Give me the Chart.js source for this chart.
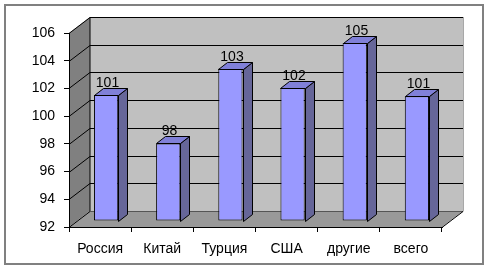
<!DOCTYPE html>
<html>
<head>
<meta charset="utf-8">
<script src="https://cdn.jsdelivr.net/npm/chart.js@4"></script>
<style>
  html, body { margin: 0; padding: 0; background: #fff; }
  #wrap { width: 491px; height: 272px; position: relative; }
</style>
</head>
<body>
<div id="wrap"><canvas id="chart"></canvas></div>
<script>
const categories = ['Россия', 'Китай', 'Турция', 'США', 'другие', 'всего'];
const values = [101.1, 97.6, 103.0, 101.6, 104.85, 101.0];
const yMin = 92;
const yMax = 106;
const yStep = 2;

// 3d look: depth of the walls and where the bars sit inside it
const wallDx = 21, wallDy = -16;
const barShiftX = 6, barShiftY = -6;
const barDx = 9, barDy = -7;

const fontFamily = 'Arial, "Liberation Sans", sans-serif';

function poly(ctx, pts, fill, stroke) {
  ctx.beginPath();
  ctx.moveTo(pts[0][0], pts[0][1]);
  for (let i = 1; i < pts.length; i++) ctx.lineTo(pts[i][0], pts[i][1]);
  ctx.closePath();
  if (fill) { ctx.fillStyle = fill; ctx.fill(); }
  if (stroke) { ctx.strokeStyle = stroke; ctx.lineWidth = 1; ctx.stroke(); }
}

function line(ctx, x1, y1, x2, y2, color) {
  ctx.beginPath();
  ctx.moveTo(x1, y1);
  ctx.lineTo(x2, y2);
  ctx.strokeStyle = color;
  ctx.lineWidth = 1;
  ctx.stroke();
}

const walls3d = {
  id: 'walls3d',
  beforeDraw(chart) {
    const ctx = chart.ctx;
    const xs = chart.scales.x, ys = chart.scales.y;
    const L = xs.left, R = xs.right;
    const B = ys.getPixelForValue(yMin), T = ys.getPixelForValue(yMax);
    ctx.save();
    ctx.fillStyle = '#fff';
    ctx.fillRect(0, 0, chart.width, chart.height);
    // outer frame
    ctx.strokeStyle = '#808080';
    ctx.lineWidth = 2;
    ctx.strokeRect(5, 5, 478, 259);

    // back wall
    poly(ctx, [[L + wallDx, T + wallDy], [R + wallDx, T + wallDy], [R + wallDx, B + wallDy], [L + wallDx, B + wallDy]], '#c0c0c0');
    // left wall
    poly(ctx, [[L, B], [L, T], [L + wallDx, T + wallDy], [L + wallDx, B + wallDy]], '#808080');
    // floor
    poly(ctx, [[L, B], [R, B], [R + wallDx, B + wallDy], [L + wallDx, B + wallDy]], '#999999');

    // gridlines on the walls
    for (let v = yMin + yStep; v <= yMax; v += yStep) {
      const py = Math.round(ys.getPixelForValue(v)) + 0.5;
      line(ctx, L, py, L + wallDx, py + wallDy, '#000');
      line(ctx, L + wallDx, py + wallDy, R + wallDx, py + wallDy, '#000');
    }
    const by = Math.round(B) + 0.5;
    line(ctx, L + wallDx, by + wallDy, L + wallDx, Math.round(T) + 0.5 + wallDy, '#000');
    line(ctx, L, by, L + wallDx, by + wallDy, '#000');
    line(ctx, L + wallDx, by + wallDy, R + wallDx, by + wallDy, '#555');
    line(ctx, R, by, R + wallDx, by + wallDy, '#000');
    line(ctx, R + wallDx + 0.5, by + wallDy, R + wallDx + 0.5, Math.round(T) + wallDy, '#a8a8a8');
    ctx.restore();
  },
  beforeDatasetsDraw(chart) {
    chart.ctx.save();
    chart.ctx.translate(barShiftX, barShiftY);
  },
  afterDatasetsDraw(chart) {
    const ctx = chart.ctx;
    ctx.restore();
    const meta = chart.getDatasetMeta(0);
    ctx.save();
    meta.data.forEach((bar, i) => {
      const p = bar.getProps(['x', 'y', 'base', 'width'], true);
      const l = Math.round(p.x - p.width / 2 + barShiftX) + 0.5;
      const r = Math.round(p.x + p.width / 2 + barShiftX) + 0.5;
      const t = Math.round(p.y + barShiftY) + 0.5;
      const b = Math.round(p.base + barShiftY) + 0.5;
      // side face
      poly(ctx, [[r, b], [r, t], [r + barDx, t + barDy], [r + barDx, b + barDy]], '#666699', '#000');
      // top face
      poly(ctx, [[l, t], [r, t], [r + barDx, t + barDy], [l + barDx, t + barDy]], '#8080d8', '#000');
      // value label
      ctx.fillStyle = '#000';
      ctx.font = '14px ' + fontFamily;
      ctx.textAlign = 'center';
      ctx.textBaseline = 'alphabetic';
      ctx.fillText(String(Math.round(values[i])), (l + r) / 2 + 1, t + barDy - 2);
    });
    ctx.restore();
  }
};

new Chart(document.getElementById('chart'), {
  type: 'bar',
  data: {
    labels: categories,
    datasets: [{
      data: values,
      base: yMin,
      backgroundColor: '#9999ff',
      borderColor: '#000',
      borderWidth: 1,
      borderSkipped: false,
      categoryPercentage: 1,
      barPercentage: 0.39,
      clip: false
    }]
  },
  options: {
    responsive: true,
    maintainAspectRatio: false,
    animation: false,
    layout: { padding: { top: 33, right: 49, bottom: 0, left: 0 } },
    plugins: {
      legend: { display: false },
      tooltip: { enabled: false }
    },
    scales: {
      x: {
        afterFit(scale) { scale.height = 45; },
        grid: { drawOnChartArea: false, tickLength: 5, color: '#000', offset: true },
        border: { color: '#000' },
        ticks: { color: '#000', padding: 9, font: { family: fontFamily, size: 14 }, maxRotation: 0 }
      },
      y: {
        min: yMin,
        max: yMax,
        afterFit(scale) { scale.width = 69; },
        grid: { drawOnChartArea: false, tickLength: 5, color: '#000' },
        border: { color: '#000' },
        ticks: { stepSize: yStep, color: '#000', padding: 9, font: { family: fontFamily, size: 14 } }
      }
    }
  },
  plugins: [walls3d]
});
</script>
</body>
</html>
